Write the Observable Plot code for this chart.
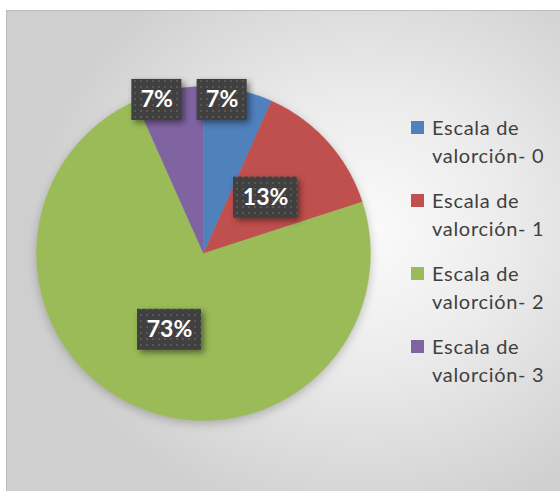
<!DOCTYPE html>
<html><head><meta charset="utf-8">
<script src="https://cdn.jsdelivr.net/npm/d3@7"></script>
<script src="https://cdn.jsdelivr.net/npm/@observablehq/plot@0.6"></script>
<style>
html,body{margin:0;padding:0;background:#fff;}
#wrap{position:relative;width:560px;height:491px;overflow:hidden;}
#bg{position:absolute;left:6px;top:10px;width:560px;height:490px;box-sizing:border-box;border:1px solid #bdbdbd;
 background:radial-gradient(ellipse 60% 62% at 64% 45%, #fbfbfb 0%, #ebebeb 45%, #cfcfcf 100%);}
#chart{position:absolute;left:0;top:0;}
#legend{position:absolute;left:411px;top:113px;font-family:Lato,"Open Sans",sans-serif;font-size:20px;letter-spacing:0.7px;line-height:28px;color:#404040;}
.item{position:relative;padding-left:21px;height:56px;margin-bottom:17px;}
.sw{position:absolute;left:0;top:8px;width:13px;height:13px;}
</style>
</head><body>
<svg width="0" height="0" style="position:absolute">
 <defs>
  <pattern id="dots" width="6" height="6" patternUnits="userSpaceOnUse">
   <rect width="6" height="6" fill="#404040"/>
   <rect x="2" y="2" width="2" height="2" fill="#585858"/>
  </pattern>
 </defs>
</svg>
<div id="wrap"><div id="bg"></div><div id="chart"></div><div id="legend"></div></div>
<script>
// ---- data ----
const categories = ["Escala de valorción- 0", "Escala de valorción- 1", "Escala de valorción- 2", "Escala de valorción- 3"];
const values = [1, 2, 11, 1];
const colors = ["#4F81BD", "#C0504D", "#9BBB59", "#8064A2"];

// ---- layout ----
const W = 560, H = 491, cx = 203, cy = 253, R = 167;
const total = d3.sum(values);
const arcs = d3.pie().sort(null).value(d => d)(values);

// slice polygons in unit coordinates
const slicePts = [];
arcs.forEach((a, i) => {
  const key = categories[i];
  slicePts.push({key, x: 0, y: 0});
  const n = Math.max(2, Math.ceil((a.endAngle - a.startAngle) / (Math.PI / 360)));
  for (let k = 0; k <= n; k++) {
    const t = a.startAngle + (a.endAngle - a.startAngle) * k / n;
    slicePts.push({key, x: Math.sin(t), y: Math.cos(t)});
  }
  slicePts.push({key, x: 0, y: 0});
});

// labels
const labels = arcs.map((a, i) => {
  const share = values[i] / total;
  const mid = (a.startAngle + a.endAngle) / 2;
  const small = share < 0.1;
  const rr = small ? 0.94 : 0.5;
  const text = Math.round(share * 100) + "%";
  const x = rr * Math.sin(mid) + (small ? -14 / R : 0);
  const y = rr * Math.cos(mid);
  const hw = (14 * text.length + 22) / 2 / R, hh = 20.5 / R;
  return {text, x, y, x1: x - hw, x2: x + hw, y1: y - hh, y2: y + hh};
});

const plot = Plot.plot({
  width: W, height: H, margin: 0,
  x: {domain: [-1, 1], range: [cx - R, cx + R], axis: null},
  y: {domain: [-1, 1], range: [cy + R, cy - R], axis: null},
  color: {domain: categories, range: colors},
  style: {background: "transparent", overflow: "visible"},
  marks: [
    Plot.line(slicePts, {x: "x", y: "y", z: "key", fill: "key", stroke: "key", strokeWidth: 0.3, curve: "linear"}),
    Plot.rect(labels, {x1: "x1", x2: "x2", y1: "y1", y2: "y2", fill: "url(#dots)"}),
    Plot.text(labels, {x: "x", y: "y", text: "text", fill: "white", fontWeight: "bold", fontSize: 23, fontFamily: "Lato, 'Open Sans', sans-serif"})
  ]
});
const lineG = plot.querySelector('g[aria-label="line"]');
if (lineG) lineG.style.filter = "drop-shadow(0px 3px 5px rgba(0,0,0,0.22))";
const rectG = plot.querySelector('g[aria-label="rect"]');
if (rectG) rectG.style.filter = "drop-shadow(3px 3px 3px rgba(0,0,0,0.45))";
document.getElementById("chart").appendChild(plot);

// legend
const leg = d3.select("#legend");
categories.forEach((c, i) => {
  const it = leg.append("div").attr("class", "item");
  it.append("div").attr("class", "sw").style("background", colors[i]);
  const parts = c.split(" ");
  it.append("div").text(parts.slice(0, 2).join(" "));
  it.append("div").text(parts.slice(2).join(" "));
});
</script>
</body></html>
